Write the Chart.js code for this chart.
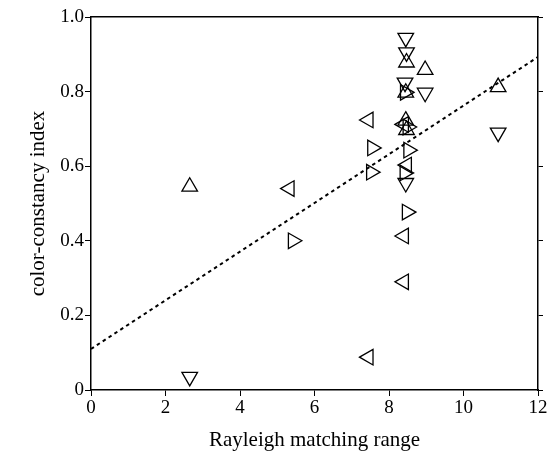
<!DOCTYPE html>
<html>
<head>
<meta charset="utf-8">
<script src="https://cdn.jsdelivr.net/npm/chart.js@4"></script>
<style>
  body { margin: 0; background: #fff; }
  #wrap { width: 550px; height: 457px; }
</style>
</head>
<body>
<div id="wrap"><canvas id="graph" width="550" height="457"></canvas></div>
<script>
// points per marker shape (x = Rayleigh matching range, y = color-constancy index)
var upX = [2.65, 8.47, 8.97, 8.45, 8.45, 8.47, 10.93];
var upY = [0.545, 0.878, 0.858, 0.797, 0.722, 0.697, 0.812];

var downX = [2.65, 8.45, 8.47, 8.43, 8.97, 8.45, 10.93];
var downY = [0.035, 0.944, 0.905, 0.824, 0.797, 0.555, 0.690];

var leftX = [5.33, 7.45, 7.45, 8.40, 8.48, 8.40, 8.40];
var leftY = [0.540, 0.724, 0.088, 0.712, 0.603, 0.413, 0.290];

var rightX = [5.42, 7.55, 7.52, 8.43, 8.52, 8.42, 8.48, 8.50];
var rightY = [0.400, 0.649, 0.584, 0.798, 0.643, 0.582, 0.477, 0.705];

// regression line end points
var fitX = [0, 12];
var fitY = [0.11, 0.893];

var xTicks = [0, 2, 4, 6, 8, 10, 12];
var yTicks = [0, 0.2, 0.4, 0.6, 0.8, 1.0];

const toPoints = (xs, ys) => xs.map((x, i) => ({ x: x, y: ys[i] }));

const markerSet = (xs, ys, rot) => ({
    type: 'scatter',
    data: toPoints(xs, ys),
    pointStyle: 'triangle',
    rotation: rot,
    pointRadius: 9,
    pointHoverRadius: 9,
    borderColor: '#000',
    backgroundColor: 'rgba(255,255,255,0)',
    borderWidth: 1.3
});

const serif = "'Liberation Serif', 'Times New Roman', serif";

const showGraph = () => {

    var graphTarget = document.getElementById('graph');

    var scatterGraph = new Chart(graphTarget, {
        type: 'scatter',
        data: {
            datasets: [
                {
                    type: 'line',
                    data: toPoints(fitX, fitY),
                    borderColor: '#000',
                    borderWidth: 2,
                    borderDash: [3.5, 3.5],
                    pointRadius: 0,
                    fill: false
                },
                markerSet(upX, upY, 0),
                markerSet(downX, downY, 180),
                markerSet(leftX, leftY, 270),
                markerSet(rightX, rightY, 90)
            ]
        },
        options: {
            responsive: false,
            animation: false,
            layout: { padding: 0 },
            plugins: {
                legend: { display: false },
                tooltip: { enabled: false }
            },
            scales: {
                x: {
                    type: 'linear',
                    min: 0,
                    max: 12,
                    afterBuildTicks: (axis) => { axis.ticks = xTicks.map(v => ({ value: v })); },
                    afterFit: (axis) => { axis.height = 67; },
                    grid: { drawOnChartArea: false, drawTicks: true, tickLength: 6, color: '#000', lineWidth: 1 },
                    border: { display: true, color: '#000', width: 1.5 },
                    ticks: { color: '#000', font: { family: serif, size: 19 }, padding: 1, maxRotation: 0 },
                    title: { display: true, text: 'Rayleigh matching range', color: '#000', font: { family: serif, size: 21 }, padding: { top: 6 } }
                },
                x2: {
                    type: 'linear',
                    position: 'top',
                    min: 0,
                    max: 12,
                    afterBuildTicks: (axis) => { axis.ticks = xTicks.map(v => ({ value: v })); },
                    afterFit: (axis) => { axis.height = 17; },
                    grid: { drawOnChartArea: false, drawTicks: false },
                    border: { display: true, color: '#000', width: 1.5 },
                    ticks: { display: false }
                },
                y: {
                    type: 'linear',
                    min: 0,
                    max: 1,
                    afterBuildTicks: (axis) => { axis.ticks = yTicks.map(v => ({ value: v })); },
                    afterFit: (axis) => { axis.width = 91; },
                    grid: { drawOnChartArea: false, drawTicks: true, tickLength: 6, color: '#000', lineWidth: 1 },
                    border: { display: true, color: '#000', width: 1.5 },
                    ticks: {
                        color: '#000',
                        font: { family: serif, size: 19 },
                        padding: 1,
                        callback: (v) => v === 0 ? '0' : v.toFixed(1)
                    },
                    title: { display: true, text: 'color-constancy index', color: '#000', font: { family: serif, size: 21 }, padding: { top: 26, bottom: 0 } }
                },
                y2: {
                    type: 'linear',
                    position: 'right',
                    min: 0,
                    max: 1,
                    afterBuildTicks: (axis) => { axis.ticks = yTicks.map(v => ({ value: v })); },
                    afterFit: (axis) => { axis.width = 12; },
                    grid: { drawOnChartArea: false, drawTicks: true, tickLength: 5, color: '#000', lineWidth: 1 },
                    border: { display: true, color: '#000', width: 1.5 },
                    ticks: { display: false }
                }
            }
        }
    });
};

showGraph();
</script>
</body>
</html>
